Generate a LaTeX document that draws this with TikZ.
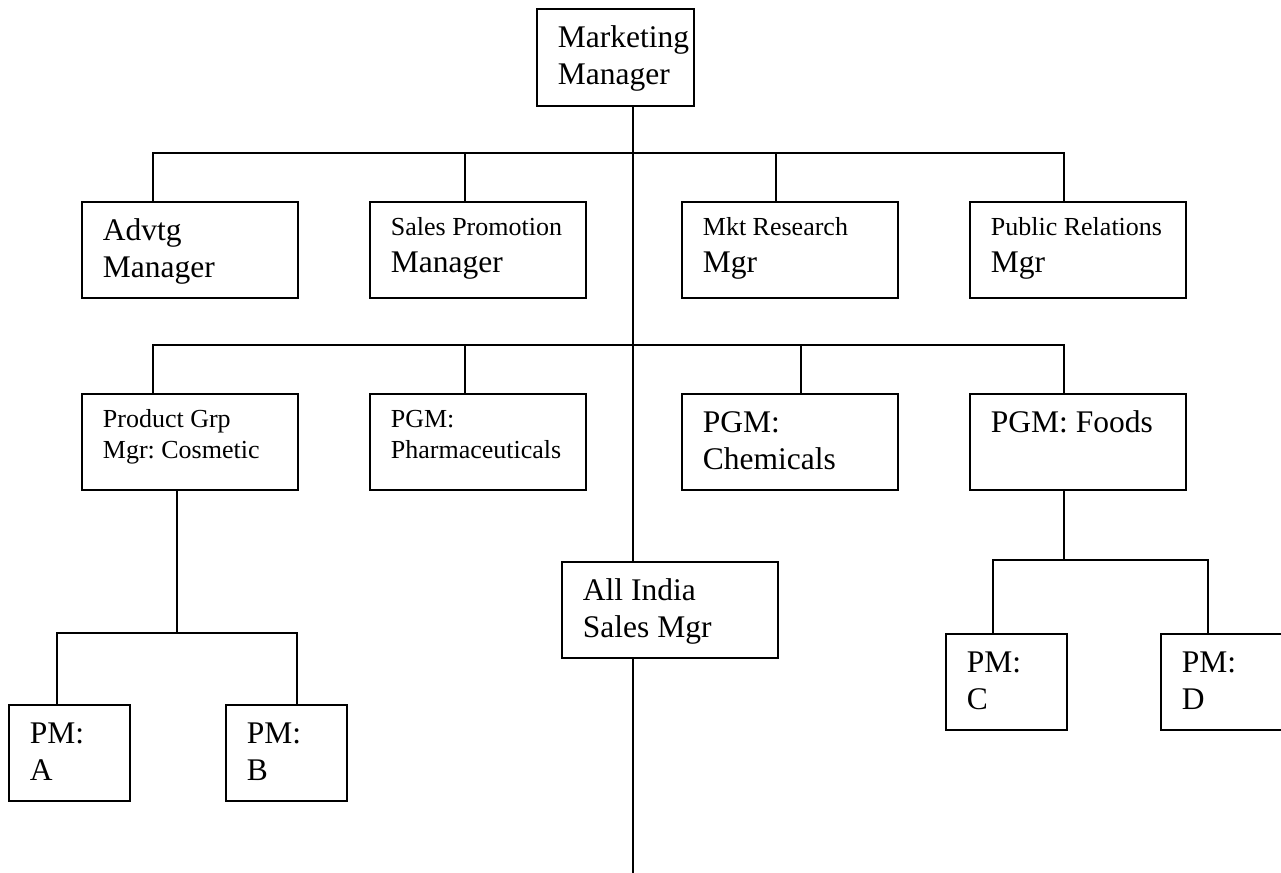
\documentclass[tikz,border=0pt]{standalone}
\usepackage{fontspec}
\setmainfont{Liberation Serif}
\usepackage{tikz}
\newcommand{\bigtxt}{\fontsize{15.75pt}{18.5pt}\selectfont}
\newcommand{\smalltxt}{\fontsize{13pt}{15.5pt}\selectfont}
\hyphenpenalty=10000
\frenchspacing

\begin{document}
\begin{tikzpicture}[x=0.5pt, y=-0.5pt,
    box/.style={draw, line width=0.9pt, anchor=north west, align=left, font=\bigtxt,
      execute at begin node={\spaceskip=0pt\xspaceskip=0pt},
      inner xsep=10.5pt, inner ysep=0pt, text width=87pt, text height=19.5pt, text depth=28.5pt},
    lo/.style={text height=17pt, text depth=31pt},
    pm/.style={text width=39.5pt},
    link/.style={line width=0.9pt}]
  \useasboundingbox (0,0) rectangle (1281,873);

  \node[box, text width=57.5pt, text depth=29pt] (mm) at (536,8) {Marketing\\Manager};

  \node[box] (adv) at (81,201) {Advtg\\Manager};
  \node[box, lo] (spm) at (369,201) {{\smalltxt Sales Promotion}\\Manager};
  \node[box, lo] (mkt) at (681,201) {{\smalltxt Mkt Research}\\Mgr};
  \node[box, lo] (pr) at (969,201) {{\smalltxt Public Relations}\\Mgr};

  \node[box, lo, font=\smalltxt] (cos) at (81,393) {Product Grp\\Mgr: Cosmetic};
  \node[box, lo, font=\smalltxt] (pha) at (369,393) {PGM:\\Pharmaceuticals};
  \node[box] (che) at (681,393) {PGM:\\Chemicals};
  \node[box] (foo) at (969,393) {PGM: Foods};

  \node[box] (ais) at (561,561) {All India\\Sales Mgr};

  \node[box, pm] (pma) at (8,704) {PM:\\A};
  \node[box, pm] (pmb) at (225,704) {PM:\\B};
  \node[box, pm] (pmc) at (945,633) {PM:\\C};
  \node[box, pm] (pmd) at (1160,633) {PM:\\D};

  % bars
  \coordinate (r1) at (633,153);
  \coordinate (r2) at (633,345);
  \coordinate (r3) at (177,633);
  \coordinate (r4) at (1064,560);
  \coordinate (end) at (633,873);

  \draw[link] ([xshift=48.5pt]mm.south west) -- ([xshift=36pt]ais.north west);
  \draw[link] ([xshift=36pt]ais.south west) -- (end);

  \foreach \n/\d in {adv/36pt, spm/48pt, mkt/47.5pt, pr/47.5pt}
    \draw[link] ([xshift=\d]\n.north west) |- (r1);
  \foreach \n/\d in {cos/36pt, pha/48pt, che/60pt, foo/47.5pt}
    \draw[link] ([xshift=\d]\n.north west) |- (r2);

  \draw[link] ([xshift=48pt]cos.south west) -- (r3);
  \foreach \n/\d in {pma/24.5pt, pmb/36pt}
    \draw[link] ([xshift=\d]\n.north west) |- (r3);

  \draw[link] ([xshift=47.5pt]foo.south west) -- (r4);
  \foreach \n/\d in {pmc/24pt, pmd/24pt}
    \draw[link] ([xshift=\d]\n.north west) |- (r4);
\end{tikzpicture}
\end{document}
